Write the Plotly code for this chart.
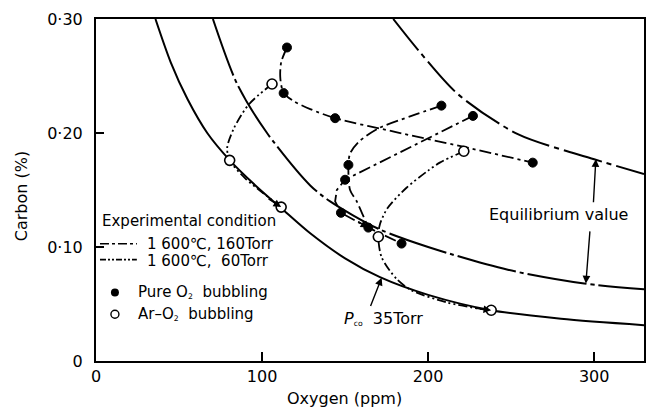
import plotly.graph_objects as go

# ---------------- data ----------------
# equilibrium curves  (oxygen ppm, carbon %)
eq160_o = [179, 195, 218, 254, 300, 330]
eq160_c = [0.300, 0.271, 0.234, 0.199, 0.177, 0.164]

eq60_o = [70.4, 85, 103, 129, 141, 170, 200, 248, 294, 330]
eq60_c = [0.300, 0.243, 0.200, 0.154, 0.140, 0.116, 0.100, 0.080, 0.068, 0.063]

eq35_o = [35.8, 45, 55, 67, 80.6, 96, 111.6, 129, 150, 171, 200, 238, 280, 330]
eq35_c = [0.300, 0.262, 0.230, 0.200, 0.176, 0.154, 0.134, 0.112, 0.090, 0.0735, 0.058, 0.0445, 0.037, 0.0314]

# measured points
pure_o = [115, 113, 144, 263, 208, 227, 152, 150, 147.5, 164, 184]
pure_c = [0.275, 0.235, 0.213, 0.174, 0.224, 0.215, 0.172, 0.159, 0.130, 0.117, 0.103]

aro2_o = [106, 80.5, 111.5, 221.5, 170, 238]
aro2_c = [0.243, 0.176, 0.135, 0.184, 0.109, 0.0445]

# trajectories
trajA_o = [115, 111.5, 111, 113, 119, 129, 144, 180, 221, 263]
trajA_c = [0.275, 0.262, 0.248, 0.235, 0.228, 0.221, 0.213, 0.201, 0.188, 0.174]

trajB_o = [106, 92, 83, 79, 80.5, 90, 100, 111.5]
trajB_c = [0.243, 0.225, 0.204, 0.187, 0.176, 0.160, 0.148, 0.135]

trajC_o = [208, 190, 170, 158, 153, 152, 153, 157, 161, 164]
trajC_c = [0.224, 0.215, 0.204, 0.192, 0.182, 0.172, 0.150, 0.140, 0.127, 0.117]

trajD_o = [227, 150, 145, 144, 147.5, 164, 184]
trajD_c = [0.215, 0.159, 0.150, 0.140, 0.130, 0.117, 0.103]

trajE_o = [221.5, 207, 200, 187, 175.5, 171, 170, 172, 181, 190, 211, 230, 238]
trajE_c = [0.184, 0.174, 0.167, 0.152, 0.134, 0.120, 0.109, 0.091, 0.072, 0.062, 0.0515, 0.046, 0.0445]

x_ticks = [0, 100, 200, 300]
x_ticktext = ["0", "100", "200", "300"]
y_ticks = [0, 0.10, 0.20, 0.30]
y_ticktext = ["0", "0·10", "0·20", "0·30"]

FONT = "DejaVu Sans"
DASH160 = "12px,4px,3px,4px"
DASH60 = "9px,3px,2px,3px,2px,3px"
SUB = "<span style='font-size:11px'><sub>%s</sub></span>"

W, H = 656, 416
L, R, T, B = 96, 10, 17, 55
PW, PH = W - L - R, H - T - B

def px(x):  # figure pixel -> paper x
    return (x - L) / PW

def py(y):  # figure pixel -> paper y
    return (H - B - y) / PH

fig = go.Figure()

def line(xs, ys, dash, width=1.8, shape="spline"):
    fig.add_trace(go.Scatter(x=xs, y=ys, mode="lines",
                             line=dict(color="black", width=width, dash=dash, shape=shape, smoothing=0.8),
                             hoverinfo="skip", showlegend=False))

# equilibrium curves
line(eq160_o, eq160_c, "40px,5px,5px,5px", 2.0)
line(eq60_o, eq60_c, "60px,4px,4px,4px", 2.0)
line(eq35_o, eq35_c, "solid", 2.0)

# trajectories
line(trajA_o, trajA_c, DASH160)
line(trajB_o, trajB_c, DASH60)
line(trajC_o, trajC_c, DASH160)
line(trajD_o, trajD_c, DASH160, shape="linear")
line(trajE_o, trajE_c, DASH60)

# markers
fig.add_trace(go.Scatter(x=pure_o, y=pure_c, mode="markers",
                         marker=dict(color="black", size=9, line=dict(color="black", width=1)),
                         showlegend=False, hoverinfo="skip"))
fig.add_trace(go.Scatter(x=aro2_o, y=aro2_c, mode="markers",
                         marker=dict(color="white", size=10, line=dict(color="black", width=1.6)),
                         showlegend=False, hoverinfo="skip"))

# legend markers on a pixel-coordinate overlay axis
fig.add_trace(go.Scatter(x=[115], y=[292], xaxis="x2", yaxis="y2", mode="markers",
                         marker=dict(color="black", size=8), showlegend=False, hoverinfo="skip"))
fig.add_trace(go.Scatter(x=[115], y=[314], xaxis="x2", yaxis="y2", mode="markers",
                         marker=dict(color="white", size=8, line=dict(color="black", width=1.4)),
                         showlegend=False, hoverinfo="skip"))

ann = []
def arrow(tip_x, tip_y, tail_x, tail_y, width=1.4):
    ann.append(dict(x=tip_x, y=tip_y, ax=tail_x, ay=tail_y, xref="x", yref="y",
                    axref="x", ayref="y", text="", showarrow=True,
                    arrowhead=2, arrowsize=1.1, arrowwidth=width, arrowcolor="black"))

# trajectory arrow heads
arrow(aro2_o[2], aro2_c[2], 103, 0.143)
arrow(aro2_o[5], aro2_c[5], 228, 0.0465)
arrow(pure_o[9], pure_c[9], 157, 0.123)
# equilibrium value double arrow
arrow(301, 0.177, 299.5, 0.138)
arrow(295, 0.068, 297.5, 0.115)
# Pco arrow
arrow(172, 0.073, 165, 0.047)

ann.append(dict(x=px(560), y=py(214), xref="paper", yref="paper", xanchor="center", yanchor="middle",
                text="Equilibrium value", showarrow=False, font=dict(family=FONT, size=16, color="black")))
ann.append(dict(x=px(343), y=py(318), xref="paper", yref="paper", xanchor="left", yanchor="middle",
                text="<i>P</i>" + SUB % "co" + "  35Torr", showarrow=False,
                font=dict(family=FONT, size=16, color="black")))

# legend block (text)
leg = [
    ("Experimental condition", 100, 220),
    ("1 600℃, 160Torr", 145, 243),
    ("1 600℃,  60Torr", 145, 260),
    ("Pure O" + SUB % "2" + "  bubbling", 136, 292),
    ("Ar–O" + SUB % "2" + "  bubbling", 136, 314),
]
for t, x0, y0 in leg:
    ann.append(dict(x=px(x0), y=py(y0), xref="paper", yref="paper",
                    xanchor="left", yanchor="middle", text=t, showarrow=False,
                    font=dict(family=FONT, size=15, color="black")))

# axis titles
ann.append(dict(x=px(345), y=py(399), xref="paper", yref="paper", xanchor="center", yanchor="middle",
                text="Oxygen (ppm)", showarrow=False, font=dict(family=FONT, size=16, color="black")))
ann.append(dict(x=px(22), y=py(195), xref="paper", yref="paper", xanchor="center", yanchor="middle",
                text="Carbon (%)", textangle=-90, showarrow=False,
                font=dict(family=FONT, size=16, color="black")))

shapes = [
    dict(type="line", xref="paper", yref="paper", x0=px(100), x1=px(137),
         y0=py(243), y1=py(243), line=dict(color="black", width=1.6, dash="9px,3px,3px,3px")),
    dict(type="line", xref="paper", yref="paper", x0=px(100), x1=px(137),
         y0=py(259), y1=py(259), line=dict(color="black", width=1.6, dash="6px,2px,2px,2px,2px,2px")),
]

fig.update_layout(
    width=W, height=H,
    margin=dict(l=L, r=R, t=T, b=B),
    paper_bgcolor="white", plot_bgcolor="white",
    font=dict(family=FONT, size=16, color="black"),
    annotations=ann, shapes=shapes,
    xaxis=dict(range=[0, 330], tickvals=x_ticks, ticktext=x_ticktext, showgrid=False, zeroline=False,
               showline=True, mirror=True, linecolor="black", linewidth=2,
               ticks="inside", ticklen=9, tickwidth=1.8, tickcolor="black",
               ticklabelstandoff=0, tickfont=dict(family=FONT, size=16)),
    yaxis=dict(range=[0, 0.30], tickvals=y_ticks, ticktext=y_ticktext, showgrid=False, zeroline=False,
               showline=True, mirror=True, linecolor="black", linewidth=2,
               ticks="inside", ticklen=8, tickwidth=1.8, tickcolor="black",
               ticklabelstandoff=8, tickfont=dict(family=FONT, size=16)),
    xaxis2=dict(domain=[0, 1], anchor="y2", overlaying="x", visible=False, range=[L, W - R]),
    yaxis2=dict(domain=[0, 1], anchor="x2", overlaying="y", visible=False, range=[H - B, T]),
)

fig.write_html("out.html")
